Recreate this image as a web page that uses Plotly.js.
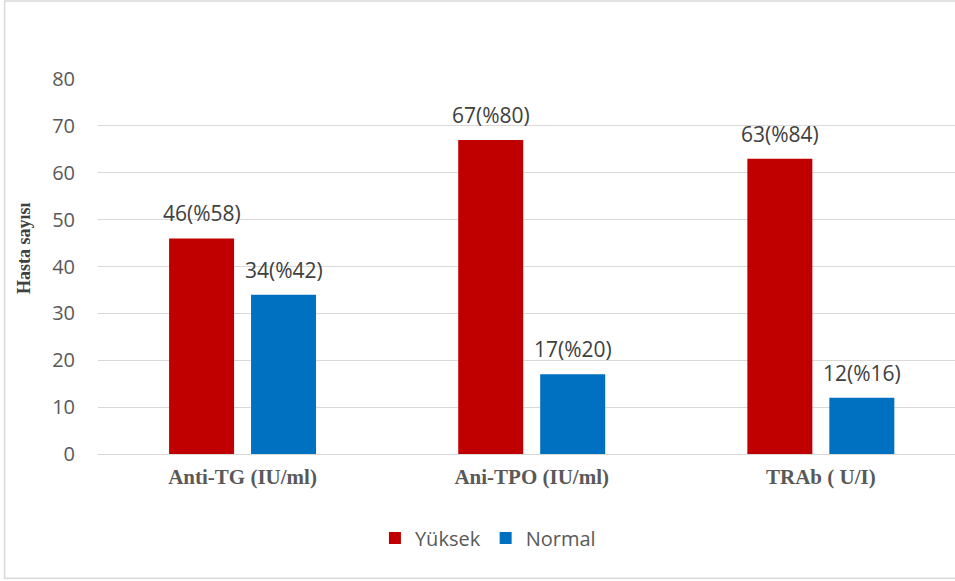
<!DOCTYPE html>
<html>
<head>
<meta charset="utf-8">
<script src="https://cdn.plot.ly/plotly-3.0.1.min.js"></script>
<style>
  html, body { margin: 0; padding: 0; background: #fff; }
  #chart { width: 955px; height: 581px; }
</style>
</head>
<body>
<div id="chart"></div>
<script>
// Antibody test results: number of patients per group
const categories = ['Anti-TG (IU/ml)', 'Ani-TPO (IU/ml)', 'TRAb ( U/I)'];
const seriesNames = ['Yüksek', 'Normal'];
const yuksekValues = [46, 67, 63];
const normalValues = [34, 17, 12];
const yuksekLabels = ['46(%58)', '67(%80)', '63(%84)'];
const normalLabels = ['34(%42)', '17(%20)', '12(%16)'];
const yTicks = [0, 10, 20, 30, 40, 50, 60, 70, 80];
const yTitle = 'Hasta sayısı';

const RED = '#C00000';
const BLUE = '#0070C0';
const BARGAP = 0.433;
const BARGROUPGAP = 0.207;

const traces = [
  { type: 'bar', name: seriesNames[0], x: categories, y: yuksekValues,
    marker: { color: RED }, hoverinfo: 'none' },
  { type: 'bar', name: seriesNames[1], x: categories, y: normalValues,
    marker: { color: BLUE }, hoverinfo: 'none' }
];

// value labels centred over each bar of the grouped pair
const slot = (1 - BARGAP) / 2;
const annotations = [];
[[yuksekValues, yuksekLabels, -slot / 2], [normalValues, normalLabels, slot / 2]].forEach(([vals, labs, off]) => {
  vals.forEach((v, i) => {
    annotations.push({
      x: i + off, y: v, xref: 'x', yref: 'y', text: labs[i],
      showarrow: false, yanchor: 'bottom', yshift: 9,
      font: { family: 'Open Sans, sans-serif', size: 21, color: '#404040' }
    });
  });
});

// vertical axis title, set slightly above the plot's middle
annotations.push({
  x: -0.0864, y: 0.549, xref: 'paper', yref: 'paper', text: yTitle,
  showarrow: false, textangle: -90, xanchor: 'center', yanchor: 'middle',
  font: { family: 'Liberation Serif, serif', size: 18, color: '#404040', weight: 'bold' }
});

const layout = {
  width: 955, height: 581,
  margin: { l: 98, r: 0, t: 79, b: 127 },
  paper_bgcolor: '#ffffff', plot_bgcolor: '#ffffff',
  barmode: 'group', bargap: BARGAP, bargroupgap: BARGROUPGAP,
  showlegend: true,
  legend: {
    orientation: 'h', x: 0.455, xanchor: 'center', y: -0.224, yanchor: 'middle',
    font: { family: 'Open Sans, sans-serif', size: 20, color: '#595959' },
    itemwidth: 30, traceorder: 'normal'
  },
  xaxis: {
    type: 'category', range: [-0.5, 2.464],
    showgrid: false, showline: false, zeroline: false, ticks: '',
    tickfont: { family: 'Liberation Serif, serif', size: 21, color: '#595959', weight: 'bold' },
    ticklabelstandoff: 8
  },
  yaxis: {
    range: [0, 80], tickvals: yTicks, ticktext: yTicks.map(String),
    showgrid: true, gridcolor: '#D9D9D9', gridwidth: 1,
    zeroline: true, zerolinecolor: '#D9D9D9', zerolinewidth: 1,
    showline: false, ticks: '', ticklabelstandoff: 22,
    tickfont: { family: 'Open Sans, sans-serif', size: 20, color: '#595959' }
  },
  annotations: annotations,
  shapes: [{
    type: 'rect', xref: 'paper', yref: 'paper',
    x0: -0.109, x1: 1.2, y0: -0.331, y1: 1.208,
    line: { color: '#D9D9D9', width: 1.5 }, fillcolor: 'rgba(0,0,0,0)', layer: 'below'
  }]
};

Plotly.newPlot('chart', traces, layout, { staticPlot: true, displayModeBar: false });
</script>
</body>
</html>
